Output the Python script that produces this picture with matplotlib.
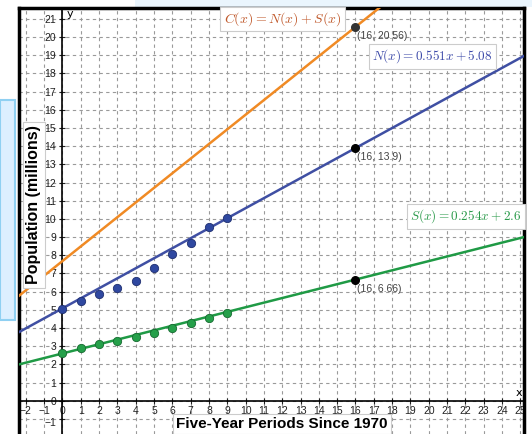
import matplotlib.pyplot as plt
import matplotlib.patches as patches
import matplotlib.transforms as mtransforms
import numpy as np

# data
periods = np.arange(0, 10)
north = [5.05, 5.5, 5.85, 6.2, 6.6, 7.3, 8.05, 8.7, 9.58, 10.07]
south = [2.6, 2.88, 3.1, 3.3, 3.52, 3.75, 4.02, 4.25, 4.55, 4.8]

n_slope, n_icpt = 0.551, 5.08
s_slope, s_icpt = 0.254, 2.6
c_slope, c_icpt = n_slope + s_slope, n_icpt + s_icpt
x_eval = 16

orange = "#f08a24"
blue = "#3f4fa3"
green = "#1f9a45"

plt.rcParams["mathtext.fontset"] = "cm"
label_font = ["Liberation Sans Narrow", "Liberation Sans", "DejaVu Sans"]
tick_font = ["Liberation Sans", "DejaVu Sans"]

fig = plt.figure(figsize=(5.32, 4.34), dpi=100)
fig.patch.set_facecolor("white")

# light blue bits of the surrounding app
fig.patches.append(patches.Rectangle((0, 1 - 320 / 434), 15 / 532, 220 / 434,
                                     transform=fig.transFigure, facecolor="#dcefff",
                                     edgecolor="#8fd0f2", lw=1.5, zorder=-1))
fig.patches.append(patches.Rectangle((135 / 532, 1 - 7 / 434), 1, 7 / 434,
                                     transform=fig.transFigure, facecolor="#eaf5fd",
                                     edgecolor="none", zorder=-1))

ax = fig.add_axes([19 / 532, 0, (524 - 19) / 532, (434 - 8) / 434])
ax.set_xlim(-2.37, 25.2)
ax.set_ylim(-1.83, 21.6)

# dashed grid
for gx in np.arange(-2, 26):
    ax.axvline(gx, color="#9a9a9a", ls=(0, (3, 3)), lw=0.8, zorder=0)
for gy in np.arange(-1, 22):
    ax.axhline(gy, color="#9a9a9a", ls=(0, (3, 3)), lw=0.8, zorder=0)

# axes through origin
ax.spines["left"].set_position(("data", 0))
ax.spines["bottom"].set_position(("data", 0))
ax.spines["left"].set_linewidth(1.2)
ax.spines["bottom"].set_linewidth(1.2)
ax.spines["top"].set_linewidth(2.5)
ax.spines["right"].set_linewidth(2.5)
ax.plot([0, 0], [0, 1], transform=ax.transAxes, color="black", lw=2.5, clip_on=False)
ax.set_xticks(np.arange(-2, 26))
ax.set_yticks(np.arange(-1, 22))
ax.set_yticklabels(["\u22121"] + [str(v) for v in range(0, 22)])
ax.set_xticklabels([str(v).replace("-", "\u2212") for v in range(-2, 26)])
ax.tick_params(direction="inout", length=5, width=0.8, labelsize=7.5, colors="#222222", pad=2)
ax.tick_params(axis="x", pad=1)
for lbl in ax.get_xticklabels() + ax.get_yticklabels():
    lbl.set_family(tick_font)
# nudge the y "-1" label a little down so it clears the x tick labels
neg_lbl = ax.get_yticklabels()[0]
neg_lbl.set_transform(neg_lbl.get_transform() +
                      mtransforms.ScaledTranslation(0, -3 / 100, fig.dpi_scale_trans))
ax.text(0.25, 21.1, "y", fontsize=8)
ax.text(24.75, 0.25, "x", fontsize=8)

# regression lines
xs = np.linspace(-3, 26, 50)
ax.plot(xs, c_slope * xs + c_icpt, color=orange, lw=1.8, zorder=3)
ax.plot(xs, n_slope * xs + n_icpt, color=blue, lw=1.8, zorder=3)
ax.plot(xs, s_slope * xs + s_icpt, color=green, lw=1.8, zorder=3)

# data points
ax.scatter(periods, north, s=36, color="#2f48a0", edgecolor="#1f2f70", lw=0.6, zorder=5)
ax.scatter(periods, south, s=36, color="#25a04a", edgecolor="#166a30", lw=0.6, zorder=5)

# points at x = 16
c16 = round(c_slope * x_eval + c_icpt, 2)
n16 = round(n_slope * x_eval + n_icpt, 2)
s16 = round(s_slope * x_eval + s_icpt, 2)
ax.scatter([x_eval], [c16], s=30, color="#333333", zorder=6)
ax.scatter([x_eval], [n16], s=30, color="black", zorder=6)
ax.scatter([x_eval], [s16], s=30, color="black", zorder=6)
for yv, txt in [(c16, "(16, 20.56)"), (n16, "(16, 13.9)"), (s16, "(16, 6.66)")]:
    ax.annotate(txt, (x_eval, yv), xytext=(1, -3), textcoords="offset points",
                fontsize=7.5, color="#444444", va="top", ha="left", family=tick_font)

box = dict(boxstyle="square,pad=0.25", facecolor="white", edgecolor="#cccccc", lw=0.8)
ax.text(8.8, 20.8, r"$C(x) = N(x) + S(x)$", fontsize=10, color="#c0582a", bbox=box, zorder=7)
ax.text(16.9, 18.75, r"$N(x) = 0.551x + 5.08$", fontsize=9.5, color="#3a48a8", bbox=box, zorder=7)
ax.text(19.0, 9.95, r"$S(x) = 0.254x + 2.6$", fontsize=9.5, color="#2a9a4a", bbox=box, zorder=7)

lab_box = dict(boxstyle="square,pad=0.2", facecolor="white", edgecolor="#cccccc", lw=0.8)
fig.text(34 / 532, 1 - 205 / 434, "Population (millions)", rotation=90, fontsize=11.5,
         fontweight="bold", family=label_font, ha="center", va="center", bbox=lab_box)
fig.text(282 / 532, 1 - 424 / 434, "Five-Year Periods Since 1970", fontsize=11,
         fontweight="bold", family=label_font, ha="center", va="center", bbox=lab_box)

fig.savefig("out.png", dpi=100, facecolor=fig.get_facecolor())
